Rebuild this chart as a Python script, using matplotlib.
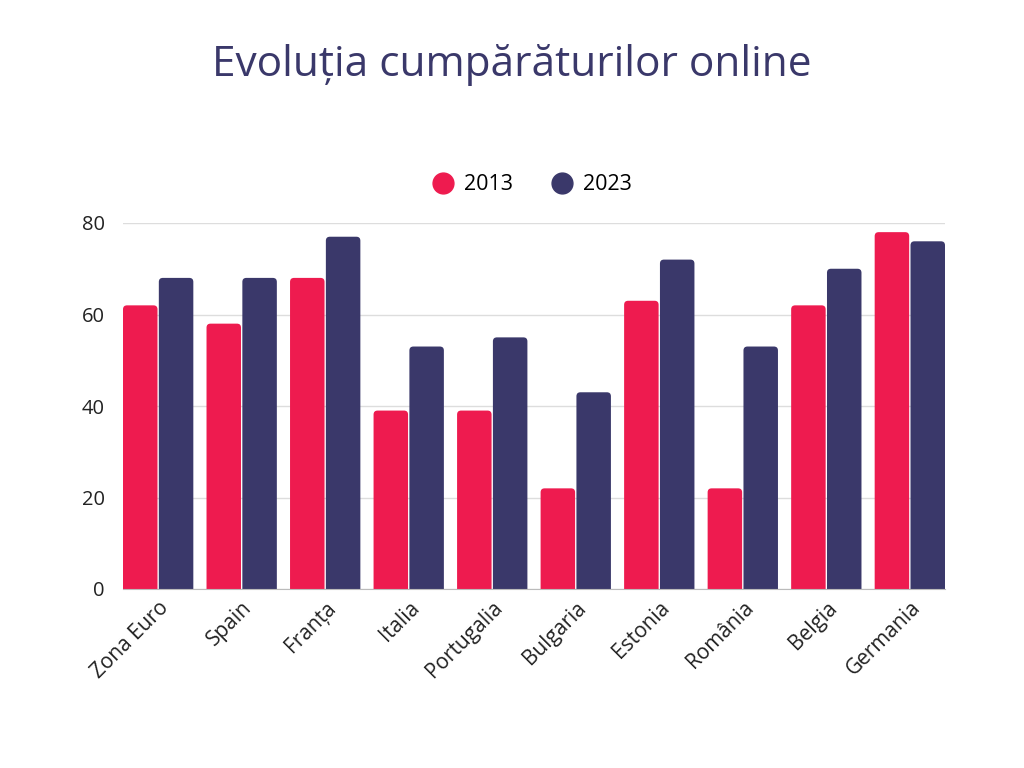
import matplotlib
matplotlib.use("Agg")
import matplotlib.pyplot as plt
from matplotlib.patches import PathPatch
from matplotlib.path import Path
from matplotlib.lines import Line2D

categories = ["Zona Euro", "Spain", "Franța", "Italia", "Portugalia", "Bulgaria",
              "Estonia", "România", "Belgia", "Germania"]
v2013 = [62, 58, 68, 39, 39, 22, 63, 22, 62, 78]
v2023 = [68, 68, 77, 53, 55, 43, 72, 53, 70, 76]
series_names = ["2013", "2023"]
colors = ["#EE1B4F", "#3A386A"]
yticks = [0, 20, 40, 60, 80]

plt.rcParams['font.family'] = ['Open Sans', 'DejaVu Sans']

L, R, B, T = 123, 945, 589, 223
fig = plt.figure(figsize=(10.24, 7.68), dpi=100)
ax = fig.add_axes([L / 1024, 1 - B / 768, (R - L) / 1024, (B - T) / 768])

bw = 0.413
gap = 0.016
half = bw + gap / 2
ax.set_xlim(-half, len(categories) - 1 + half)
ax.set_ylim(0, 80)

x_per_px = (len(categories) - 1 + 2 * half) / (R - L)
y_per_px = 80 / (B - T)
rx = 4 * x_per_px
ry = 4 * y_per_px


def top_rounded(x0, w, h):
    verts = [(x0, 0), (x0, h - ry), (x0, h), (x0 + rx, h),
             (x0 + w - rx, h), (x0 + w, h), (x0 + w, h - ry),
             (x0 + w, 0), (x0, 0)]
    codes = [Path.MOVETO, Path.LINETO, Path.CURVE3, Path.CURVE3,
             Path.LINETO, Path.CURVE3, Path.CURVE3, Path.LINETO, Path.CLOSEPOLY]
    return Path(verts, codes)


for i, (a, b) in enumerate(zip(v2013, v2023)):
    for val, col, x0 in [(a, colors[0], i - half), (b, colors[1], i + gap / 2)]:
        ax.add_patch(PathPatch(top_rounded(x0, bw, val), fc=col, ec="none", zorder=3))

ax.set_yticks(yticks)
ax.set_yticklabels([str(t) for t in yticks], fontsize=14.5, color="#222222")
ax.set_xticks(range(len(categories)))
ax.set_xticklabels(categories, rotation=45, ha="right", rotation_mode="anchor",
                   fontsize=15, color="#222222")
ax.tick_params(length=0)
ax.tick_params(axis="y", pad=13)
ax.tick_params(axis="x", pad=6)
ax.grid(axis="y", color="#dddddd", lw=1, zorder=0)
for s in ["top", "right", "left"]:
    ax.spines[s].set_visible(False)
ax.spines["bottom"].set_color("#bbbbbb")
ax.spines["bottom"].set_zorder(4)

fig.text(0.5, 1 - 65 / 768, "Evoluția cumpărăturilor online", ha="center", va="center",
         fontsize=30.5, color="#3A386A")

handles = [Line2D([], [], marker="o", ls="none", markersize=15, color=c) for c in colors]
fig.legend(handles, series_names, loc="center", bbox_to_anchor=(0.517, 1 - 185 / 768),
           ncol=2, frameon=False, fontsize=15.5, handletextpad=0.22, columnspacing=1.55,
           handlelength=1.5)

fig.savefig("out.png", dpi=100, facecolor="white")
